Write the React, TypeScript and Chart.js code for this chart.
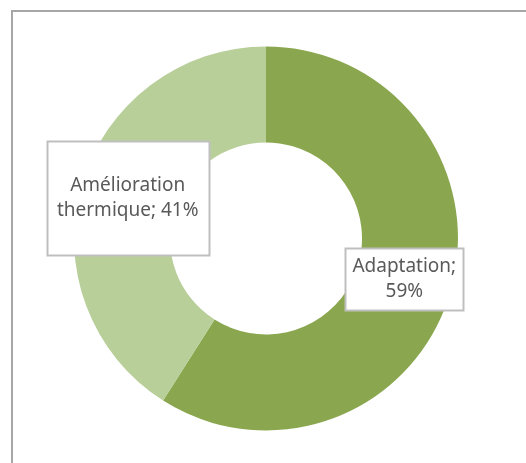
import React, { useEffect, useRef } from "react";
import { Chart, registerables } from "chart.js";

Chart.register(...registerables);

const categories = ["Adaptation", "Amélioration thermique"];
const values = [59, 41];
const colors = ["#8AA74F", "#B9CF99"];
// label box sizes (px) per slice
const labelBoxes = [
  { w: 118, h: 62, lines: ["Adaptation;", "59%"] },
  { w: 162, h: 114, lines: ["Amélioration", "thermique; 41%"] },
];

const labelPlugin = {
  id: "boxLabels",
  afterDatasetsDraw(chart: any) {
    const ctx = chart.ctx;
    const meta = chart.getDatasetMeta(0);
    ctx.save();
    meta.data.forEach((arc: any, i: number) => {
      const pos = arc.tooltipPosition();
      const box = labelBoxes[i];
      const x = Math.round(pos.x - box.w / 2) + 0.5;
      const y = Math.round(pos.y - box.h / 2) + 0.5;
      ctx.fillStyle = "#FFFFFF";
      ctx.fillRect(x, y, box.w, box.h);
      ctx.strokeStyle = "#BFBFBF";
      ctx.lineWidth = 2;
      ctx.strokeRect(x, y, box.w, box.h);
      ctx.fillStyle = "#595959";
      ctx.font = '19px "Noto Sans"';
      ctx.textAlign = "center";
      ctx.textBaseline = "middle";
      const lh = 25;
      const n = box.lines.length;
      box.lines.forEach((t: string, k: number) => {
        ctx.fillText(t, pos.x, pos.y + (k - (n - 1) / 2) * lh);
      });
    });
    ctx.restore();
  },
};

const framePlugin = {
  id: "frame",
  beforeDraw(chart: any) {
    const ctx = chart.ctx;
    ctx.save();
    ctx.fillStyle = "#FFFFFF";
    ctx.fillRect(0, 0, chart.width, chart.height);
    ctx.strokeStyle = "#A6A6A6";
    ctx.lineWidth = 2;
    ctx.beginPath();
    ctx.moveTo(12, chart.height + 5);
    ctx.lineTo(12, 11);
    ctx.lineTo(chart.width + 5, 11);
    ctx.stroke();
    ctx.restore();
  },
};

export default function App() {
  const ref = useRef<HTMLCanvasElement>(null);
  useEffect(() => {
    if (!ref.current) return;
    const chart = new Chart(ref.current, {
      type: "doughnut",
      data: {
        labels: categories,
        datasets: [
          {
            data: values,
            backgroundColor: colors,
            borderWidth: 0,
          },
        ],
      },
      options: {
        animation: false,
        responsive: false,
        cutout: "50%",
        layout: { padding: { left: 74, right: 68, top: 46, bottom: 32 } },
        plugins: {
          legend: { display: false },
          tooltip: { enabled: false },
        },
      },
      plugins: [framePlugin, labelPlugin],
    });
    return () => chart.destroy();
  }, []);
  return (
    <div style={{ position: "fixed", left: 0, top: 0, width: 526, height: 463 }}>
      <canvas ref={ref} width={526} height={463} style={{ display: "block" }} />
    </div>
  );
}
